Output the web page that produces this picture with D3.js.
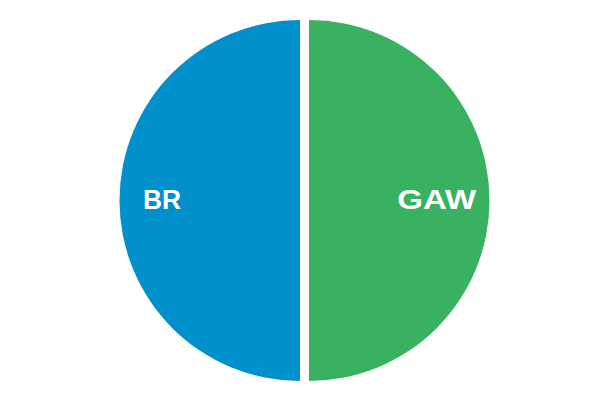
<!DOCTYPE html>
<html>
<head>
<meta charset="utf-8">
<script src="https://cdn.jsdelivr.net/npm/d3@7"></script>
<style>
  html, body { margin: 0; padding: 0; background: #fff; }
  svg { display: block; }
</style>
</head>
<body>
<div id="chart"></div>
<script>
// chart data
const categories = ['BR', 'GAW'];
const values = [50, 50];
const colors = ['#0091cd', '#38b161'];

const width = 600, height = 401;
const cx = 304.5, cy = 200.5, radius = 180.5;
const explode = 4.5;               // each slice pushed out from the centre
const labelRadius = [0.765, 0.708]; // label distance, fraction of radius
const labelWidth = [38, 79];        // rendered label widths in the reference

const svg = d3.select('#chart').append('svg')
    .attr('width', width)
    .attr('height', height);

const g = svg.append('g').attr('transform', `translate(${cx},${cy})`);

// start at the bottom so the first slice sits on the left
const pie = d3.pie().sort(null).startAngle(Math.PI).endAngle(3 * Math.PI);
const data = pie(values);
const arc = d3.arc().innerRadius(0).outerRadius(radius);

const mid = d => (d.startAngle + d.endAngle) / 2;

const slices = g.selectAll('g.slice')
    .data(data)
    .join('g')
    .attr('class', 'slice')
    .attr('transform', d => `translate(${Math.sin(mid(d)) * explode},${-Math.cos(mid(d)) * explode})`);

slices.append('path')
    .attr('d', arc)
    .attr('fill', (d, i) => colors[i]);

slices.append('text')
    .attr('x', (d, i) => Math.sin(mid(d)) * radius * labelRadius[i] - labelWidth[i] / 2)
    .attr('y', (d, i) => -Math.cos(mid(d)) * radius * labelRadius[i])
    .attr('dy', '0.33em')
    .attr('textLength', (d, i) => labelWidth[i])
    .attr('lengthAdjust', 'spacingAndGlyphs')
    .attr('fill', '#fff')
    .attr('font-family', 'Liberation Sans, Arial, sans-serif')
    .attr('font-weight', 'bold')
    .attr('font-size', '27px')
    .text((d, i) => categories[i]);
</script>
</body>
</html>
